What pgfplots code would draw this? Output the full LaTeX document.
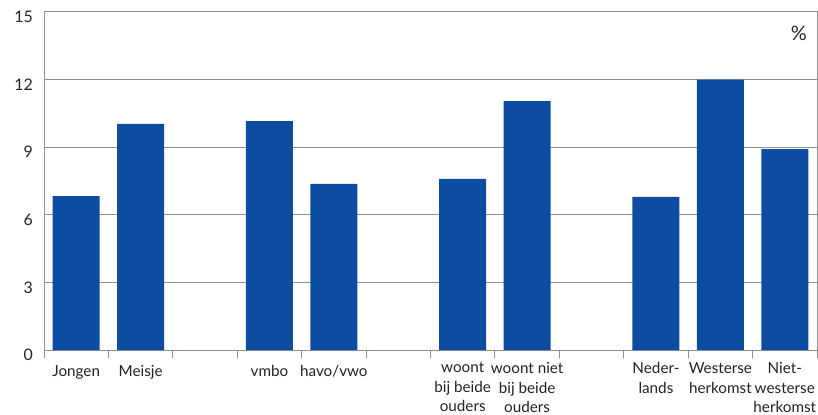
\documentclass[border=0pt]{standalone}
\usepackage{fontspec}
\setmainfont{Lato}
\usepackage{pgfplots}
\pgfplotsset{compat=1.18}
\usetikzlibrary{calc}
\definecolor{barblue}{RGB}{13,77,161}
\definecolor{gridgray}{RGB}{145,145,145}
\definecolor{txt}{RGB}{35,35,35}

\begin{document}
\begin{tikzpicture}
\begin{axis}[
  name=ax,
  scale only axis,
  width=773bp, height=338bp,
  xmin=-0.5, xmax=11.5,
  ymin=0, ymax=15,
  ytick={0,3,6,9,12,15},
  ymajorgrids,
  grid style={gridgray, line width=1bp},
  axis line style={gridgray, line width=1bp},
  major tick length=0pt,
  xtick={0,1,3,4,6,7,9,10,11},
  xticklabels={Jongen, Meisje, vmbo, havo/vwo,
    woont\\bij beide\\ouders, woont niet\\bij beide\\ouders,
    Neder-\\lands, Westerse\\herkomst, Niet-\\westerse\\herkomst},
  minor xtick={-0.5,0.5,...,11.5},
  minor tick length=8bp,
  tick align=inside,
  xtick pos=bottom, ytick pos=left,
  minor tick style={gridgray, line width=1bp},
  xticklabel style={align=center, font=\fontsize{15.3}{19.5}\selectfont,
    text=txt, anchor=north, inner sep=0pt, yshift=-12.5bp,
    execute at begin node=\strut},
  yticklabel style={font=\fontsize{16}{18}\selectfont, text=txt,
    anchor=east, inner sep=0pt, xshift=-11bp, yshift=-5bp},
  /pgf/number format/assume math mode=true,
  ybar, bar width=47bp,
]
\addplot[fill=barblue, draw=none] coordinates {(0,6.83) (1,10.03) (3,10.16) (4,7.37) (6,7.59) (7,11.05) (9,6.79) (10,12) (11,8.92)};
\node[anchor=east, inner sep=0pt, font=\fontsize{20}{24}\selectfont, text=txt, xshift=-10bp] at (axis cs:11.5,14.07) {\%};
\end{axis}
\pgfresetboundingbox
\path[use as bounding box] ($(ax.south west)+(-44bp,-65bp)$) rectangle ($(ax.north east)+(1bp,12bp)$);
\end{tikzpicture}
\end{document}
